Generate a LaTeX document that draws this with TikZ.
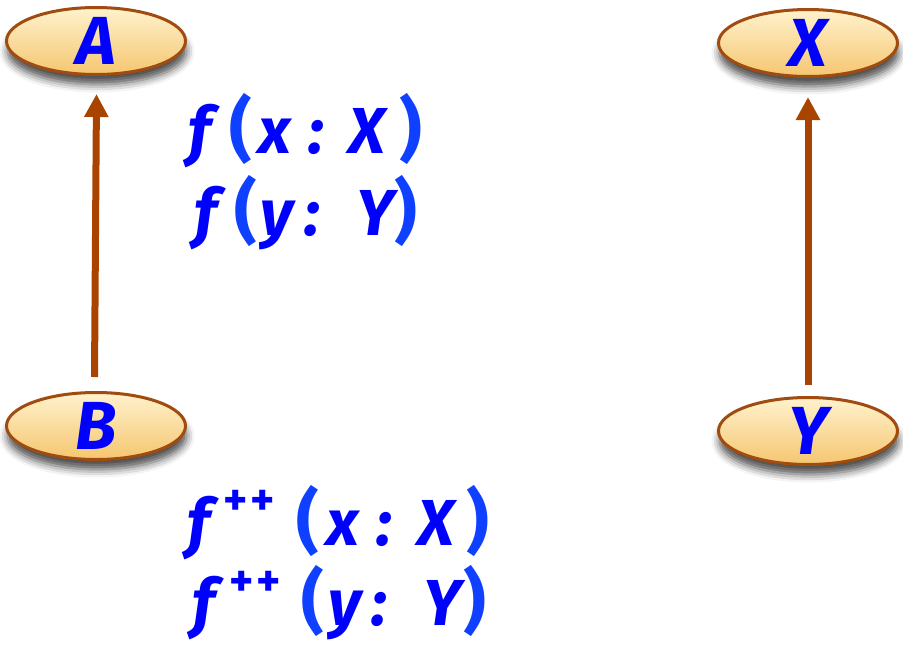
\documentclass[tikz,border=0pt]{standalone}
\usepackage{fontspec}
\setmainfont{Fira Sans}
\usetikzlibrary{shapes.geometric,shadows.blur,arrows.meta}
\definecolor{txtblue}{RGB}{0,0,255}
\definecolor{parblue}{RGB}{16,64,255}
\definecolor{arrbrown}{RGB}{169,68,0}
\definecolor{ellborder}{RGB}{160,75,15}
\definecolor{elltop}{RGB}{255,242,205}
\definecolor{ellmid}{RGB}{255,228,160}
\definecolor{ellbot}{RGB}{245,198,112}
\tikzset{
  ell/.style={ellipse, inner sep=0pt, minimum width=179pt, minimum height=67pt,
    draw=ellborder, line width=3pt,
    top color=elltop, middle color=ellmid, bottom color=ellbot,
    blur shadow={shadow xshift=1pt, shadow yshift=-10pt, shadow opacity=70, shadow blur radius=8pt},
    text=txtblue, font=\fontsize{68}{68}\selectfont\bfseries\itshape},
  arr/.style={draw=arrbrown, line width=7pt, -{Triangle[width=23pt,length=23pt]}},
  gl/.style={anchor=base, inner sep=0pt, text=txtblue, font=\fontsize{65}{65}\selectfont\bfseries\itshape},
  pr/.style={anchor=base, inner sep=0pt, text=parblue, font=\fontsize{70}{70}\selectfont\bfseries},
  pl/.style={anchor=center, inner sep=0pt, text=txtblue, font=\fontsize{46}{46}\selectfont\bfseries}
}
\begin{document}
\begin{tikzpicture}[x=1pt,y=-1pt]
\useasboundingbox (0,0) rectangle (903,649);
% ellipses
\node[ell] (A) at (96,41) {A};
\node[ell] (X) at (808,43) {X};
\node[ell] (B) at (96,426) {B};
\node[ell] (Y) at (808,431) {Y};
% arrow endpoints
\coordinate (bs) at (94.5,377);
\coordinate (at) at (96.5,94);
\coordinate (ys) at (808,385);
\coordinate (xt) at (808,97);
\draw[arr] (bs) -- (at);
\draw[arr] (ys) -- (xt);
% line 1: f (x : X)
\node[gl] (l1f) at (200,153) {f};
\node[pr] (l1o) at (241,153) {(};
\node[gl] (l1x) at (275,153) {x};
\node[gl] (l1c) at (316,153) {:};
\node[gl] (l1X) at (367,153) {X};
\node[pr] (l1e) at (411,153) {)};
% line 2: f (y: Y)
\node[gl] (l2f) at (206,235) {f};
\node[pr] (l2o) at (246,235) {(};
\node[gl] (l2y) at (277,235) {y};
\node[gl] (l2c) at (312,235) {:};
\node[gl] (l2Y) at (375,235) {Y};
\node[pr] (l2e) at (406,235) {)};
% line 3: f++ (x : X)
\node[gl] (l3f) at (199,545) {f};
\node[pl] (l3p1) at (236,503) {+};
\node[pl] (l3p2) at (263,503) {+};
\node[pr] (l3o) at (308,545) {(};
\node[gl] (l3x) at (343,545) {x};
\node[gl] (l3c) at (384,545) {:};
\node[gl] (l3X) at (436,545) {X};
\node[pr] (l3e) at (478,545) {)};
% line 4: f++ (y: Y)
\node[gl] (l4f) at (204,625) {f};
\node[pl] (l4p1) at (242,584) {+};
\node[pl] (l4p2) at (269,584) {+};
\node[pr] (l4o) at (313,625) {(};
\node[gl] (l4y) at (345,625) {y};
\node[gl] (l4c) at (379,625) {:};
\node[gl] (l4Y) at (442,625) {Y};
\node[pr] (l4e) at (475,625) {)};
\end{tikzpicture}
\end{document}
